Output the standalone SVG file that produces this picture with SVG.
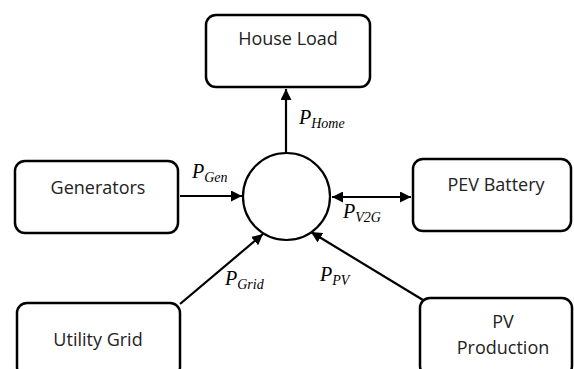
<svg xmlns="http://www.w3.org/2000/svg" width="574" height="369" viewBox="0 0 574 369">
<style>
.box{fill:#fff;stroke:#000;stroke-width:2.5}
.lbl{font-family:"Open Sans",sans-serif;font-size:18px;fill:#222;text-anchor:middle}
.m{font-family:"Liberation Serif",serif;font-style:italic;font-size:20px;fill:#000}
.s{font-size:14px}
.ln{stroke:#000;stroke-width:2.2;fill:none}
</style>
<defs>
<marker id="ah" viewBox="0 0 10 10" refX="10" refY="5" markerWidth="5" markerHeight="5" orient="auto-start-reverse" markerUnits="strokeWidth">
<path d="M0,0 L10,5 L0,10 z" fill="#000"/>
</marker>
</defs>
<g id="connectors">
<line class="ln" x1="286" y1="153" x2="286" y2="89" marker-end="url(#ah)"/>
<line class="ln" x1="180" y1="196" x2="242" y2="196" marker-end="url(#ah)"/>
<line class="ln" x1="332" y1="197" x2="411" y2="197" marker-start="url(#ah)" marker-end="url(#ah)"/>
<line class="ln" x1="180" y1="304" x2="263" y2="234" marker-end="url(#ah)"/>
<line class="ln" x1="423" y1="300" x2="311" y2="232" marker-end="url(#ah)"/>
<text class="m" x="299" y="124">P<tspan class="s" dy="4">Home</tspan></text>
<text class="m" x="192" y="178">P<tspan class="s" dy="4">Gen</tspan></text>
<text class="m" x="343" y="218">P<tspan class="s" dy="4">V2G</tspan></text>
<text class="m" x="225" y="285">P<tspan class="s" dy="4">Grid</tspan></text>
<text class="m" x="320" y="281">P<tspan class="s" dy="4">PV</tspan></text>
</g>
<g id="hub"><circle cx="286.5" cy="196.5" r="43.5" fill="#fff" stroke="#000" stroke-width="2.2"/></g>
<g id="house"><rect class="box" x="206" y="15" width="164" height="72" rx="10"/><text class="lbl" x="288" y="45">House Load</text></g>
<g id="gen"><rect class="box" x="15" y="161" width="163" height="72" rx="10"/><text class="lbl" x="98" y="194">Generators</text></g>
<g id="pev"><rect class="box" x="413" y="159" width="158" height="72" rx="10"/><text class="lbl" x="496" y="191">PEV Battery</text></g>
<g id="grid"><rect class="box" x="17" y="303" width="163" height="74" rx="10"/><text class="lbl" x="98" y="346">Utility Grid</text></g>
<g id="pv"><rect class="box" x="420" y="298" width="152" height="78" rx="10"/><text class="lbl" x="503" y="328">PV</text><text class="lbl" x="503" y="354">Production</text></g>
</svg>
